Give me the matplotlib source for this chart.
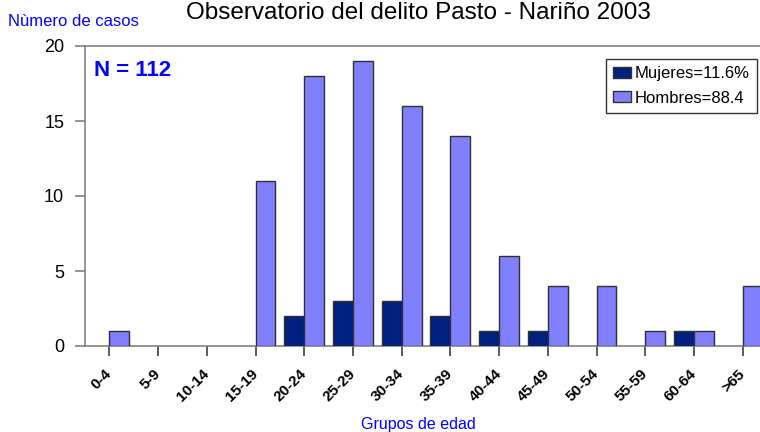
import matplotlib
matplotlib.use("Agg")
import matplotlib.pyplot as plt
from matplotlib.transforms import ScaledTranslation
import numpy as np

NARROW = ["Liberation Sans Narrow", "Liberation Sans", "DejaVu Sans"]
plt.rcParams.update({
    "font.family": ["Liberation Sans", "DejaVu Sans"],
    "axes.edgecolor": "#808080",
    "axes.linewidth": 1.2,
})

grupos = ["0-4", "5-9", "10-14", "15-19", "20-24", "25-29", "30-34",
          "35-39", "40-44", "45-49", "50-54", "55-59", "60-64", ">65"]
mujeres = np.array([0, 0, 0, 0, 2, 3, 3, 2, 1, 1, 0, 0, 1, 0])
hombres = np.array([1, 0, 0, 11, 18, 19, 16, 14, 6, 4, 4, 1, 1, 4])

C_MUJ = "#002080"
C_HOM = "#8080FF"
BLUE = "#0000FF"

fig = plt.figure(figsize=(7.6, 4.32), dpi=100)
ax = fig.add_axes([85 / 760, 86 / 432, 682 / 760, 300 / 432])

x = np.arange(len(grupos))
w = 0.41
m = mujeres > 0
h = hombres > 0
ax.bar(x[m] - w / 2, mujeres[m], width=w, color=C_MUJ, edgecolor="#303030",
       linewidth=1.0, label="Mujeres=11.6%", zorder=3)
ax.bar(x[h] + w / 2, hombres[h], width=w, color=C_HOM, edgecolor="#303030",
       linewidth=1.0, label="Hombres=88.4", zorder=3)

ax.set_xlim(-0.5, 13.5)
ax.set_ylim(0, 20)
ax.set_yticks([0, 5, 10, 15, 20])
ax.set_xticks(x)
ax.set_xticklabels(grupos, rotation=45, ha="right", va="top",
                   fontweight="bold", fontsize=11)
ax.tick_params(axis="y", length=7, width=1.2, color="#808080", pad=8, labelsize=13)
ax.tick_params(axis="x", length=7, width=1.2, color="#404040", pad=8)
# nudge rotated labels so their ends sit just right of the tick
offset = ScaledTranslation(0.05, 0, fig.dpi_scale_trans)
for lab in ax.get_xticklabels():
    lab.set_transform(lab.get_transform() + offset)
ax.spines["right"].set_visible(False)

ax.text(0.013, 0.952, "N = 112", transform=ax.transAxes, color=BLUE,
        fontsize=16, fontweight="bold", family=NARROW, va="top", ha="left")

leg = ax.legend(loc="upper right", bbox_to_anchor=(0.985, 0.957),
                prop={"family": NARROW, "size": 12},
                frameon=True, fancybox=False, edgecolor="black",
                handlelength=1.05, handleheight=0.6, handletextpad=0.2,
                borderpad=0.45, labelspacing=0.55, borderaxespad=0)
leg.get_frame().set_linewidth(1.0)

fig.text(418 / 760, 1 - 19 / 432, "Observatorio del delito Pasto - Nariño 2003",
         ha="center", va="baseline", fontsize=17.5)
fig.text(8 / 760, 1 - 26 / 432, "Nùmero de casos", ha="left", va="baseline",
         color=BLUE, fontsize=12, family=NARROW)
fig.text(418 / 760, 1 - 429 / 432, "Grupos de edad", ha="center", va="baseline",
         color=BLUE, fontsize=11.5, family=NARROW)

fig.savefig("out.png", dpi=100, facecolor="white")
